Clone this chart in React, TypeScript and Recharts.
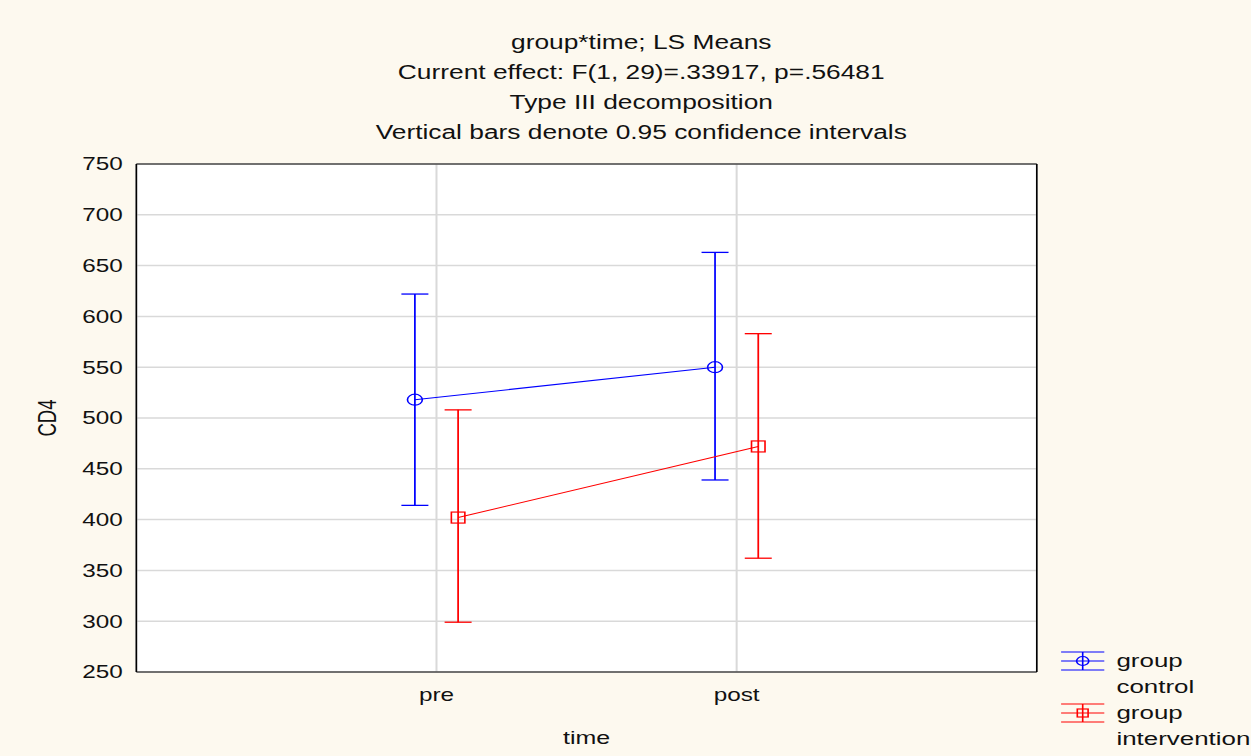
import { ComposedChart, Line, XAxis, YAxis, CartesianGrid, ErrorBar, ReferenceLine } from 'recharts';

// LS means with 0.95 CI
const timeLabels = ['pre', 'post'];
const controlMean = [518, 550];
const controlLow = [414, 439];
const controlHigh = [622, 663];
const interventionMean = [402, 472];
const interventionLow = [299, 362];
const interventionHigh = [508, 583];
const yTicks = [250, 300, 350, 400, 450, 500, 550, 600, 650, 700, 750];
const titleLines = [
  'group*time; LS Means',
  'Current effect: F(1, 29)=.33917, p=.56481',
  'Type III decomposition',
  'Vertical bars denote 0.95 confidence intervals',
];

const DODGE = 0.072;
const STRETCH = 1.35; // source picture is stretched horizontally
const FONT = '"Liberation Sans", Arial, sans-serif';
const BLUE = '#0000ff';
const RED = '#ff0000';

const buildSeries = (mean: number[], low: number[], high: number[], shift: number) =>
  mean.map((m, i) => ({ x: i + 1 + shift, y: m, err: [m - low[i], high[i] - m] }));

const controlData = buildSeries(controlMean, controlLow, controlHigh, -DODGE);
const interventionData = buildSeries(interventionMean, interventionLow, interventionHigh, DODGE);

const CircleDot = (props: any) => {
  const { cx, cy } = props;
  if (cx == null || cy == null) return null;
  return <circle cx={cx} cy={cy} r={5.5} fill="none" stroke={BLUE} strokeWidth={1.2} />;
};

const SquareDot = (props: any) => {
  const { cx, cy } = props;
  if (cx == null || cy == null) return null;
  return <rect x={cx - 5} y={cy - 5.5} width={10} height={11} fill="none" stroke={RED} strokeWidth={1.2} />;
};

const LegendIcon = ({ color, square }: { color: string; square?: boolean }) => (
  <svg width={32} height={22} style={{ overflow: 'visible' }}>
    <line x1={0} y1={2} x2={32} y2={2} stroke={color} strokeWidth={1.2} />
    <line x1={0} y1={11} x2={32} y2={11} stroke={color} strokeWidth={1.2} />
    <line x1={0} y1={20} x2={32} y2={20} stroke={color} strokeWidth={1.2} />
    <line x1={16} y1={2} x2={16} y2={20} stroke={color} strokeWidth={1.2} />
    {square ? (
      <rect x={12} y={7} width={8} height={8} fill="none" stroke={color} strokeWidth={1.2} />
    ) : (
      <circle cx={16} cy={11} r={4.5} fill="none" stroke={color} strokeWidth={1.2} />
    )}
  </svg>
);

const LegendBox = () => (
  <div style={{ fontFamily: FONT, fontSize: 19.2, color: '#111', lineHeight: '26px' }}>
    <div style={{ display: 'flex', alignItems: 'flex-start' }}>
      <div style={{ width: 41, paddingTop: 2 }}><LegendIcon color={BLUE} /></div>
      <div>group<br />control</div>
    </div>
    <div style={{ display: 'flex', alignItems: 'flex-start' }}>
      <div style={{ width: 41, paddingTop: 2 }}><LegendIcon color={RED} square /></div>
      <div>group<br />intervention</div>
    </div>
  </div>
);

export default function App() {
  return (
    <div
      style={{
        position: 'fixed',
        left: 0,
        top: 0,
        width: 1251,
        height: 756,
        background: '#fdf9ef',
        overflow: 'hidden',
      }}
    >
      <div style={{ width: 927, height: 756, transform: `scaleX(${STRETCH})`, transformOrigin: '0 0', position: 'relative' }}>
        <div
          style={{
            position: 'absolute',
            top: 27,
            left: 0,
            width: 950,
            textAlign: 'center',
            fontFamily: FONT,
            fontSize: 19.5,
            lineHeight: '30px',
            color: '#111',
          }}
        >
          {titleLines.map((t) => (
            <div key={t}>{t}</div>
          ))}
        </div>
        <div style={{ position: 'absolute', left: 786, top: 648, width: 150 }}>
          <LegendBox />
        </div>
        <ComposedChart width={927} height={756} margin={{ top: 164, right: 159, bottom: 8, left: 21 }}>
          <CartesianGrid fill="#ffffff" stroke="#d9d9d9" strokeWidth={1.5} />
          <XAxis
            type="number"
            dataKey="x"
            domain={[0, 3]}
            ticks={[1, 2]}
            tickFormatter={(v: number) => timeLabels[v - 1] ?? ''}
            allowDuplicatedCategory={false}
            height={76}
            tickLine={false}
            tickMargin={10}
            axisLine={{ stroke: '#000', strokeWidth: 1.2 }}
            tick={{ fill: '#111', fontSize: 18, fontFamily: FONT }}
            label={{ value: 'time', position: 'insideBottom', offset: 4, fill: '#111', fontSize: 18.5, fontFamily: FONT }}
          />
          <YAxis
            type="number"
            domain={[250, 750]}
            ticks={yTicks}
            interval={0}
            width={80}
            tickLine={false}
            tickMargin={4}
            axisLine={{ stroke: '#000', strokeWidth: 1.2 }}
            tick={{ fill: '#111', fontSize: 18, fontFamily: FONT }}
            label={{
              content: ({ viewBox }: any) => (
                <text
                  x={viewBox.x + 14}
                  y={viewBox.y + viewBox.height / 2}
                  transform={`rotate(-90 ${viewBox.x + 14} ${viewBox.y + viewBox.height / 2})`}
                  textAnchor="middle"
                  dominantBaseline="central"
                  fill="#111"
                  fontSize={18.5}
                  fontFamily={FONT}
                >
                  CD4
                </text>
              ),
            }}
          />
          <ReferenceLine y={750} stroke="#000" strokeWidth={1.2} />
          <ReferenceLine x={3} stroke="#000" strokeWidth={1.2} />
          <Line
            data={controlData}
            dataKey="y"
            name="group control"
            stroke={BLUE}
            strokeWidth={1}
            dot={<CircleDot />}
            activeDot={false}
            isAnimationActive={false}
          >
            <ErrorBar dataKey="err" direction="y" width={10} stroke={BLUE} strokeWidth={1.3} isAnimationActive={false} />
          </Line>
          <Line
            data={interventionData}
            dataKey="y"
            name="group intervention"
            stroke={RED}
            strokeWidth={1}
            dot={<SquareDot />}
            activeDot={false}
            isAnimationActive={false}
          >
            <ErrorBar dataKey="err" direction="y" width={10} stroke={RED} strokeWidth={1.3} isAnimationActive={false} />
          </Line>
        </ComposedChart>
      </div>
    </div>
  );
}
